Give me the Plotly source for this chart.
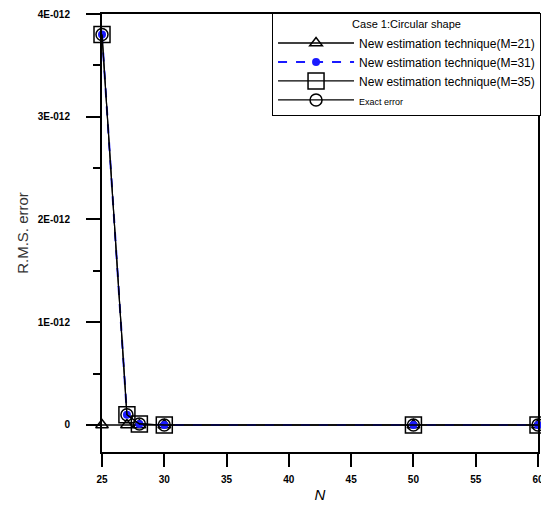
import plotly.graph_objects as go

N = [25, 27, 28, 30, 50, 60]
err_m21 = [0, 0, 0, 0, 0, 0]
err_m31 = [3.8e-12, 0.1e-12, 0.01e-12, 0, 0, 0]
err_m35 = [3.8e-12, 0.1e-12, 0.01e-12, 0, 0, 0]
err_exact = [3.8e-12, 0.1e-12, 0.01e-12, 0, 0, 0]

y_tickvals = [0, 1e-12, 2e-12, 3e-12, 4e-12]
y_ticktext = ["0", "1E-012", "2E-012", "3E-012", "4E-012"]
y_minor = [0.5e-12, 1.5e-12, 2.5e-12, 3.5e-12]
x_tickvals = [25, 30, 35, 40, 45, 50, 55, 60]

fig = go.Figure()
fig.add_trace(go.Scatter(x=N, y=err_m21, mode="lines+markers",
                         name="New estimation technique(M=21)",
                         line=dict(color="black", width=1.5),
                         marker=dict(symbol="triangle-up-open", size=11, color="black",
                                     line=dict(width=1.5)),
                         cliponaxis=False))
fig.add_trace(go.Scatter(x=N, y=err_m31, mode="lines+markers",
                         name="New estimation technique(M=31)",
                         line=dict(color="#1a1aff", width=2, dash="dash"),
                         marker=dict(symbol="circle", size=8, color="#1a1aff"),
                         cliponaxis=False))
fig.add_trace(go.Scatter(x=N, y=err_m35, mode="lines+markers",
                         name="New estimation technique(M=35)",
                         line=dict(color="black", width=1.2),
                         marker=dict(symbol="square-open", size=16, color="black",
                                     line=dict(width=1.5)),
                         cliponaxis=False))
fig.add_trace(go.Scatter(x=N, y=err_exact, mode="lines+markers",
                         name="<span style='font-size:9px'>Exact error</span>",
                         line=dict(color="black", width=1.2),
                         marker=dict(symbol="circle-open", size=12, color="black",
                                     line=dict(width=1.5)),
                         cliponaxis=False))

fig.update_layout(
    width=541, height=506,
    margin=dict(l=102, r=3, t=14, b=54, autoexpand=False),
    paper_bgcolor="white", plot_bgcolor="white",
    font=dict(family="Arial, Liberation Sans, sans-serif", color="black"),
    showlegend=True,
    legend=dict(
        x=0.39, y=1.002, xanchor="left", yanchor="top",
        bgcolor="white", bordercolor="black", borderwidth=1,
        font=dict(size=12),
        itemwidth=76,
        tracegroupgap=0,
        title=dict(text="Case 1:Circular shape", side="top center",
                   font=dict(size=11)),
    ),
    xaxis=dict(
        range=[24.9999, 60.0001], tickvals=x_tickvals, automargin=False,
        showline=True, linewidth=2, linecolor="black", mirror=True,
        ticks="outside", ticklen=13, tickwidth=2, tickcolor="black",
        showgrid=False, zeroline=False,
        tickfont=dict(size=10, weight="bold"),
        ticklabelstandoff=4, ticklabeloverflow="allow",
        title=dict(text="<i>N</i>", font=dict(size=15), standoff=5),
    ),
    yaxis=dict(
        range=[-0.263e-12, 4e-12], tickvals=y_tickvals, ticktext=y_ticktext,
        automargin=False,
        showline=True, linewidth=2, linecolor="black", mirror=True,
        ticks="outside", ticklen=14, tickwidth=2, tickcolor="black",
        minor=dict(tickvals=y_minor, ticklen=7,
                   tickwidth=2, tickcolor="black", ticks="outside"),
        showgrid=False, zeroline=False,
        tickfont=dict(size=10, weight="bold"),
        ticklabelstandoff=14,
        title=dict(text="R.M.S. error", font=dict(size=15, color="#333"), standoff=6),
    ),
)

fig.write_html("out.html", config={"displayModeBar": False},
               post_script="document.body.style.margin='0';document.body.style.overflow='hidden';")
